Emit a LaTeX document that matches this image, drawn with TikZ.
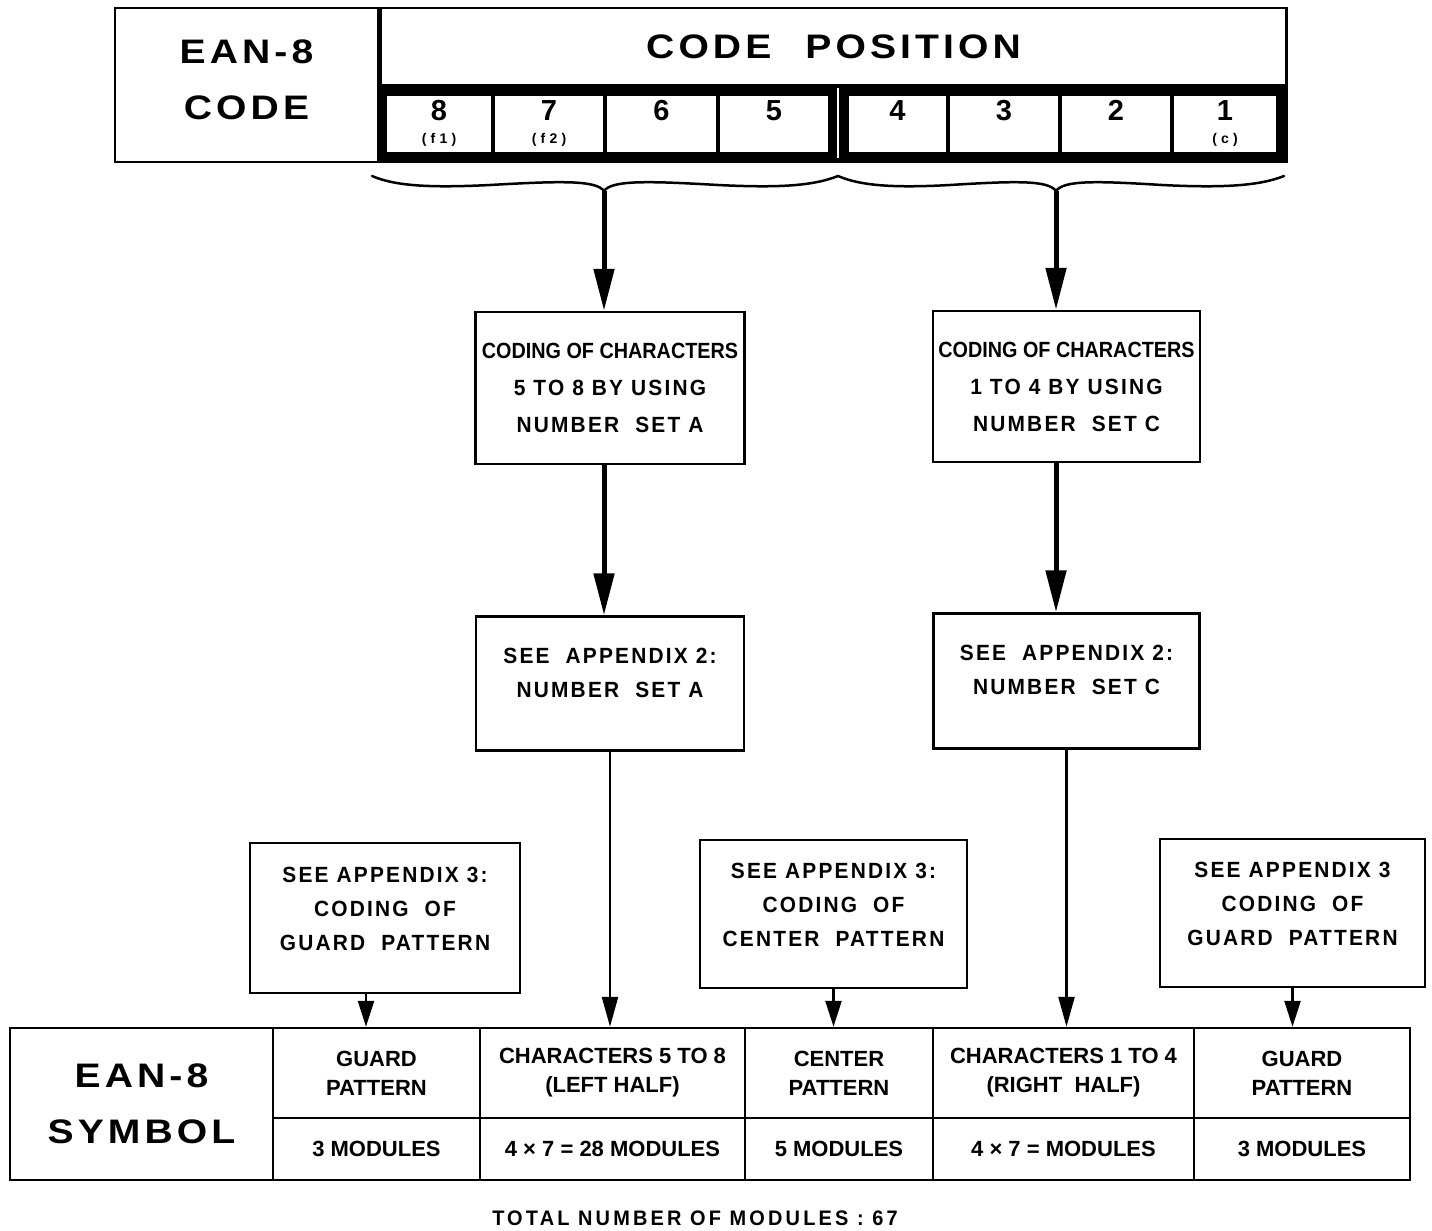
\documentclass[tikz,border=0pt]{standalone}
\usepackage{fontspec}
\setmainfont{Liberation Sans}
\newfontfamily\narrowfont{Liberation Sans}[FakeStretch=0.9]
\newfontfamily\widefont{Liberation Sans}[FakeStretch=1.15,LetterSpace=12]
\newfontfamily\spacedfont{Liberation Sans}[FakeStretch=0.95,LetterSpace=10]
\newfontfamily\totalfont{Liberation Sans}[FakeStretch=0.95,LetterSpace=15]
\newfontfamily\subfont{Liberation Sans}[LetterSpace=30]
\usetikzlibrary{arrows.meta,positioning}

\begin{document}
\begin{tikzpicture}[x=1pt,y=-1pt,
    font=\bfseries\fontsize{22}{37}\selectfont,
    box/.style={draw,line width=2.5pt,align=center,inner sep=0pt,font=\spacedfont\bfseries\fontsize{22}{37}\selectfont},
    apx/.style={box,text depth=19pt,font=\spacedfont\bfseries\fontsize{22}{34}\selectfont},
    dcell/.style={draw,fill=white,line width=1.5pt,minimum height=58pt,align=center,inner sep=0pt},
    tcell/.style={draw,line width=2.5pt,align=center,inner sep=0pt,font=\bfseries\fontsize{22}{29}\selectfont},
    headtxt/.style={font=\widefont\bfseries\fontsize{34}{56}\selectfont},
    brc/.style={line width=2.5pt,line cap=round},
    fat/.style={line width=5pt,-{Triangle[length=42pt,width=20pt]}},
    slim/.style={line width=2.5pt,-{Triangle[length=30pt,width=16pt]}},
    stub/.style={line width=2.5pt,-{Triangle[length=26pt,width=16pt]}}]
    \useasboundingbox (0,0) rectangle (1432,1231);
    \node[box,headtxt,text depth=11pt,minimum width=263pt,minimum height=154pt] (eanc) at (246.5,85) {EAN-8\\CODE};
    \node[box,headtxt,anchor=north west,minimum width=906pt,minimum height=77pt] (codepos) at (eanc.north east) {CODE\quad POSITION};
    \fill (codepos.south west) rectangle (eanc.south -| codepos.east);
    \draw[white,line width=1.5pt] (838,88) -- (838,158);
    \foreach \d/\s/\x/\w in {8/(f1)/439/106pt,7/(f2)/549/110pt,6//661.5/111pt,5//774/110pt,
                             4//897.5/99pt,3//1004/110pt,2//1116/110pt,1/(c)/1225/104pt}
        \node[dcell,minimum width=\w] (d\d) at (\x,124)
            {\fontsize{29}{29}\selectfont\d\\[-14pt]{\subfont\bfseries\fontsize{14}{14}\selectfont\strut\s}};
    \draw[brc] (372,176) .. controls (395,186) and (430,188) .. (490,185) .. controls (560,181) and (596,180) .. (604,191)
               .. controls (612,180) and (648,181) .. (718,185) .. controls (778,188) and (813,186) .. (838,176);
    \draw[brc] (838,176) .. controls (861,186) and (895,188) .. (950,185) .. controls (1015,181) and (1048,180) .. (1056,191)
               .. controls (1064,180) and (1097,181) .. (1162,185) .. controls (1222,188) and (1259,186) .. (1284,176);
    \coordinate (bl) at (604,191);
    \coordinate (br) at (1056,191);

    \node[box,minimum width=269pt,minimum height=152pt] (setA) at (610,388)
        {{\narrowfont\bfseries CODING OF CHARACTERS}\\5 TO 8 BY USING\\NUMBER\ \ SET A};
    \node[box,minimum width=267pt,minimum height=151pt,right=186pt of setA,yshift=1.5pt] (setC)
        {{\narrowfont\bfseries CODING OF CHARACTERS}\\1 TO 4 BY USING\\NUMBER\ \ SET C};
    \node[apx,text depth=22pt,minimum width=268pt,minimum height=134pt,below=150pt of setA] (apxA)
        {SEE\ \ APPENDIX 2:\\NUMBER\ \ SET A};
    \node[apx,text depth=22pt,minimum width=266pt,minimum height=135pt,below=149pt of setC] (apxC)
        {SEE\ \ APPENDIX 2:\\NUMBER\ \ SET C};
    \node[apx,minimum width=270pt,minimum height=150pt] (gdA) at (385,918)
        {SEE APPENDIX 3:\\CODING\ \ OF\\GUARD\ \ PATTERN};
    \node[apx,minimum width=267pt,minimum height=148pt] (ctr) at (833.5,914)
        {SEE APPENDIX 3:\\CODING\ \ OF\\CENTER\ \ PATTERN};
    \node[apx,minimum width=265pt,minimum height=148pt] (gdC) at (1292.5,913)
        {SEE APPENDIX 3\\CODING\ \ OF\\GUARD\ \ PATTERN};

    \node[tcell,headtxt,minimum width=263pt,minimum height=152pt] (eans) at (141.5,1104) {EAN-8\\SYMBOL};
    \foreach \n/\x/\w/\a/\b in {gl/376.5/207pt/{GUARD\\PATTERN}/3 MODULES,
                                cl/612.5/265pt/{CHARACTERS 5 TO 8\\(LEFT HALF)}/4 × 7 = 28 MODULES,
                                cc/839/188pt/{CENTER\\PATTERN}/5 MODULES,
                                cr/1063.5/261pt/{CHARACTERS 1 TO 4\\(RIGHT\ \ HALF)}/4 × 7 = MODULES,
                                gr/1302/216pt/{GUARD\\PATTERN}/3 MODULES}{
        \node[tcell,minimum width=\w,minimum height=90pt] (\n) at (\x,1073) {\a};
        \node[tcell,minimum width=\w,minimum height=62pt] (\n-m) at (\x,1149) {\b};
    }
    \node[font=\totalfont\bfseries\fontsize{21}{21}\selectfont] (total) at (695,1218) {TOTAL NUMBER OF MODULES : 67};

    \draw[fat] (bl) -- (bl |- setA.north);
    \draw[fat] (bl |- setA.south) -- (bl |- apxA.north);
    \draw[fat] (br) -- (br |- setC.north);
    \draw[fat] (br |- setC.south) -- (br |- apxC.north);
    \draw[slim] (apxA.south) -- (apxA.south |- cl.north);
    \draw[slim] (apxC.south) -- (apxC.south |- cr.north);
    \draw[stub] ([xshift=-19pt]gdA.south) -- ([xshift=-19pt]gdA.south |- gl.north);
    \draw[stub] (ctr.south) -- (ctr.south |- cc.north);
    \draw[stub] (gdC.south) -- (gdC.south |- gr.north);
\end{tikzpicture}
\end{document}
